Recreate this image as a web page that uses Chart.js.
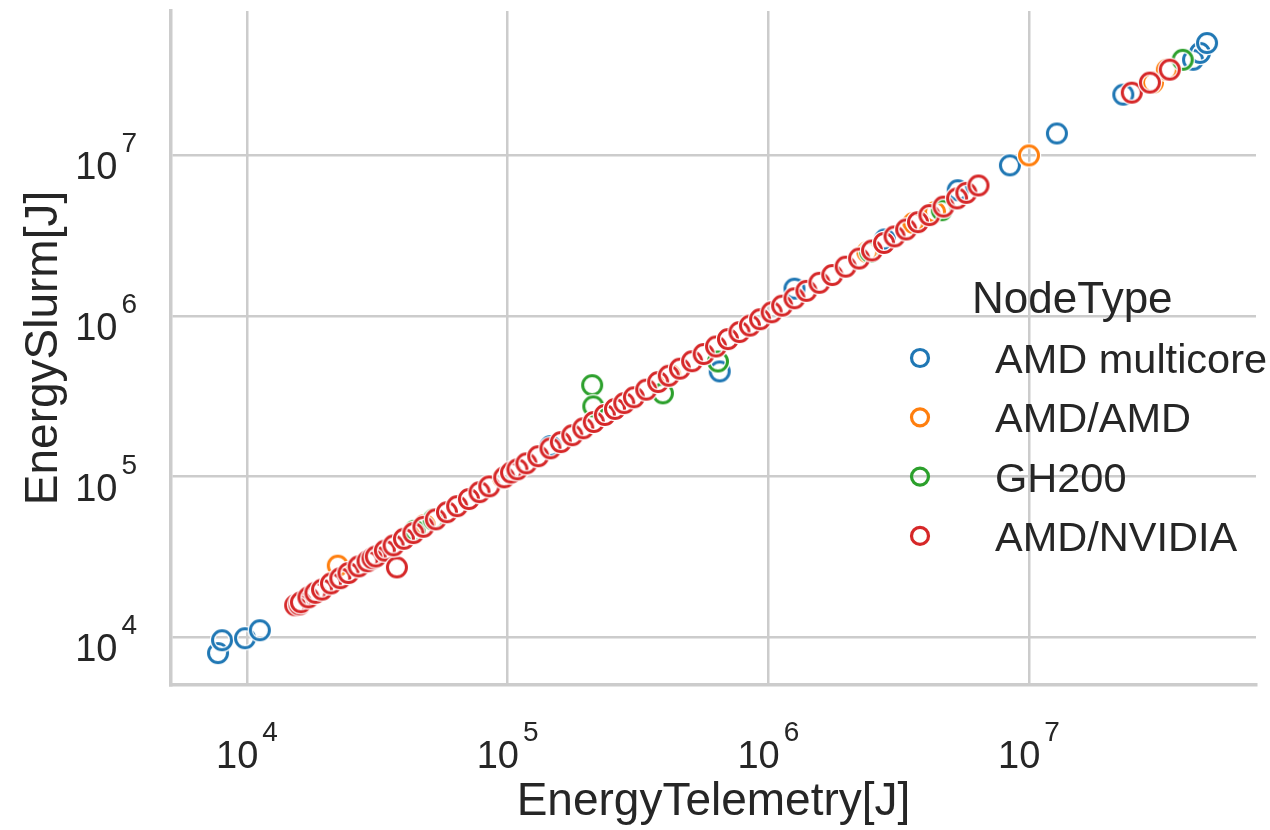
<!DOCTYPE html>
<html>
<head>
<meta charset="utf-8">
<script src="https://cdn.jsdelivr.net/npm/chart.js@4.4.1/dist/chart.umd.min.js"></script>
<style>
  html, body { margin: 0; padding: 0; background: #fff; }
  #wrap { width: 1270px; height: 830px; }
</style>
</head>
<body>
<div id="wrap"><canvas id="energyChart"></canvas></div>
<script>
const nodeTypes = ["AMD multicore", "AMD/AMD", "GH200", "AMD/NVIDIA"];
const nodeColors = ["#1f77b4", "#ff7f0e", "#2ca02c", "#d62728"];
const decadeTicks = [1e4, 1e5, 1e6, 1e7];
const decadeExponents = ["4", "5", "6", "7"];

// energy per job: telemetry vs slurm accounting, joules
const multicoreTelemetry = [7740, 8020, 9830, 11200, 48000, 146000, 651000, 1260000, 2800000, 5330000, 8450000, 12800000, 23000000, 42600000, 45300000, 48200000];
const multicoreSlurm     = [7960, 9580, 9860, 11050, 50000, 155000, 452000, 1480000, 3000000, 6070000, 8670000, 13700000, 23900000, 39400000, 43500000, 50100000];

const amdAmdTelemetry = [22300, 48000, 96000, 420000, 2400000, 3600000, 4360000, 10000000, 29900000, 33800000];
const amdAmdSlurm     = [27900, 50000, 98000, 430000, 2500000, 3800000, 4440000, 10000000, 28400000, 34100000];

const gh200Telemetry = [44000, 52000, 211000, 213000, 394000, 641000, 700000, 2460000, 4630000, 38900000];
const gh200Slurm     = [46000, 54000, 371000, 274000, 330000, 521000, 720000, 2510000, 4560000, 39400000];

const nvidiaTelemetry = [15300, 15900, 16100, 17200, 18300, 19400, 21000, 22800, 24500, 26800, 29000, 30300, 31200, 33800, 37600, 36500, 40000, 43500, 47500, 53000, 58500, 64000, 71000, 78000, 85000, 97000, 103000, 109000, 118000, 131000, 146000, 160000, 177000, 195000, 214000, 236000, 258000, 280000, 305000, 340000, 378000, 415000, 458000, 510000, 565000, 630000, 700000, 775000, 850000, 930000, 1030000, 1130000, 1260000, 1400000, 1570000, 1760000, 1980000, 2230000, 2500000, 2780000, 3050000, 3380000, 3750000, 4150000, 4700000, 5300000, 5750000, 6400000, 24800000, 29100000, 34700000];
const nvidiaSlurm     = [15800, 16000, 16500, 17700, 18900, 19800, 21600, 23300, 25100, 27600, 29700, 31000, 31800, 34600, 27200, 37300, 41000, 44500, 48700, 54200, 60000, 65500, 72500, 80000, 87000, 99000, 106000, 111000, 121000, 134000, 150000, 164000, 181000, 200000, 219000, 242000, 264000, 287000, 312000, 348000, 388000, 425000, 470000, 523000, 580000, 646000, 718000, 795000, 872000, 955000, 1055000, 1160000, 1290000, 1435000, 1610000, 1800000, 2030000, 2280000, 2560000, 2850000, 3130000, 3460000, 3840000, 4250000, 4800000, 5400000, 5850000, 6500000, 24600000, 28400000, 34200000];

const seriesX = [multicoreTelemetry, amdAmdTelemetry, gh200Telemetry, nvidiaTelemetry];
const seriesY = [multicoreSlurm, amdAmdSlurm, gh200Slurm, nvidiaSlurm];

const FONT = "'Liberation Sans', Arial, sans-serif";
const TEXT = "#262626";
const GRID = "#cccccc";

// hollow ring marker with a thin white halo
function ringMarker(color) {
  const c = document.createElement("canvas");
  c.width = 28; c.height = 28;
  const g = c.getContext("2d");
  g.beginPath();
  g.arc(14, 14, 9.5, 0, Math.PI * 2);
  g.strokeStyle = "#ffffff"; g.lineWidth = 5.5; g.stroke();
  g.strokeStyle = color; g.lineWidth = 3; g.stroke();
  return c;
}

const datasets = nodeTypes.map((name, i) => ({
  label: name,
  data: seriesX[i].map((x, j) => ({ x: x, y: seriesY[i][j] })),
  pointStyle: ringMarker(nodeColors[i]),
  pointRadius: 10,
  pointHoverRadius: 10,
  borderColor: nodeColors[i],
  order: nodeTypes.length - i
}));

function drawPow(ctx, x, baseY, exp, align) {
  ctx.font = "38px " + FONT;
  const wb = ctx.measureText("10").width;
  ctx.font = "28px " + FONT;
  const we = ctx.measureText(exp).width;
  const gap = 4;
  const total = wb + gap + we;
  const left = align === "right" ? x - total : x - total / 2;
  ctx.font = "38px " + FONT;
  ctx.fillText("10", left, baseY);
  ctx.font = "28px " + FONT;
  ctx.fillText(exp, left + wb + gap, baseY - 27);
}

// log tick labels as 10 with raised exponent
const powerTicks = {
  id: "powerTicks",
  afterDraw(chart) {
    const { ctx, scales } = chart;
    ctx.save();
    ctx.fillStyle = TEXT;
    ctx.textAlign = "left";
    ctx.textBaseline = "alphabetic";
    decadeTicks.forEach((v, i) => {
      drawPow(ctx, scales.x.getPixelForValue(v), 768, decadeExponents[i], "center");
      drawPow(ctx, 137, scales.y.getPixelForValue(v) + 24, decadeExponents[i], "right");
    });
    ctx.restore();
  }
};

const nodeLegend = {
  id: "nodeLegend",
  afterDraw(chart) {
    const ctx = chart.ctx;
    ctx.save();
    ctx.fillStyle = TEXT;
    ctx.textAlign = "left";
    ctx.textBaseline = "alphabetic";
    ctx.font = "44px " + FONT;
    ctx.fillText("NodeType", 972, 313);
    ctx.font = "41.5px " + FONT;
    nodeTypes.forEach((name, i) => {
      const y = 358 + i * 59.3;
      ctx.beginPath();
      ctx.arc(920, y, 8.5, 0, Math.PI * 2);
      ctx.strokeStyle = nodeColors[i];
      ctx.lineWidth = 3.2;
      ctx.stroke();
      ctx.fillText(name, 995, y + 15);
    });
    ctx.restore();
  }
};

const ctx = document.getElementById("energyChart").getContext("2d");
new Chart(ctx, {
  type: "scatter",
  data: { datasets: datasets },
  plugins: [powerTicks, nodeLegend],
  options: {
    responsive: true,
    maintainAspectRatio: false,
    animation: false,
    layout: { padding: { top: 8, right: 14, bottom: 0, left: 0 } },
    plugins: { legend: { display: false }, tooltip: { enabled: false } },
    scales: {
      x: {
        type: "logarithmic",
        min: 5110,
        max: 7.43e7,
        afterBuildTicks: (s) => { s.ticks = decadeTicks.map(v => ({ value: v })); },
        afterFit: (s) => { s.height = 145; },
        ticks: { display: false },
        grid: { color: GRID, lineWidth: 2.5, drawTicks: false },
        border: { display: true, color: GRID, width: 3.5 },
        title: {
          display: true,
          text: "EnergyTelemetry[J]",
          color: TEXT,
          font: { family: FONT, size: 46 },
          padding: { top: 0, bottom: 0 }
        }
      },
      y: {
        type: "logarithmic",
        min: 5040,
        max: 7.93e7,
        afterBuildTicks: (s) => { s.ticks = decadeTicks.map(v => ({ value: v })); },
        afterFit: (s) => { s.width = 171; },
        ticks: { display: false },
        grid: { color: GRID, lineWidth: 2.5, drawTicks: false },
        border: { display: true, color: GRID, width: 3.5 },
        title: {
          display: true,
          text: "EnergySlurm[J]",
          color: TEXT,
          font: { family: FONT, size: 46 },
          padding: { top: 17, bottom: 0 }
        }
      }
    }
  }
});
</script>
</body>
</html>
